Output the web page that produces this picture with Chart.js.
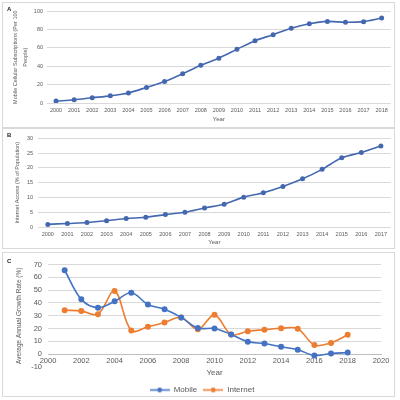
<!DOCTYPE html>
<html>
<head>
<meta charset="utf-8">
<script src="https://cdn.jsdelivr.net/npm/chart.js@4.4.0/dist/chart.umd.min.js"></script>
<style>
  body { margin: 0; background: #fff; width: 400px; height: 400px; position: relative; overflow: hidden; }
  .panel { position: absolute; left: 2px; width: 393px; border: 1px solid #d9d9d9; box-sizing: border-box; overflow: hidden; }
  .panel canvas { position: absolute; left: 1px; top: 1px; }
  .tag { position: absolute; left: 4px; top: 3px; font: bold 6px "Liberation Sans", sans-serif; color: #222; z-index: 2; }
</style>
</head>
<body>
<div class="panel" id="pa" style="top:2px;height:126px;"><span class="tag">A</span><canvas id="chartA" width="390" height="124"></canvas></div>
<div class="panel" id="pb" style="top:128px;height:121px;"><span class="tag">B</span><canvas id="chartB" width="390" height="119"></canvas></div>
<div class="panel" id="pc" style="top:252px;height:145px;"><span class="tag" style="top:5px;">C</span><canvas id="chartC" width="390" height="150"></canvas></div>
<script>
// panel A - mobile subscriptions
var yearsA = ['2000','2001','2002','2003','2004','2005','2006','2007','2008','2009','2010','2011','2012','2013','2014','2015','2016','2017','2018'];
var mobileSubs = [2.1, 3.5, 5.7, 7.8, 11, 17, 23.4, 31.9, 41.1, 48.9, 58.5, 68, 74.5, 81.6, 86.5, 89, 88, 88.7, 92.6];

// panel B - internet access
var yearsB = ['2000','2001','2002','2003','2004','2005','2006','2007','2008','2009','2010','2011','2012','2013','2014','2015','2016','2017'];
var internetAccess = [0.88, 1.2, 1.5, 2.1, 2.85, 3.3, 4.2, 5.0, 6.45, 7.7, 10.1, 11.6, 13.7, 16.3, 19.5, 23.4, 25.2, 27.4];

// panel C - growth rates
var yearsC = [2001, 2002, 2003, 2004, 2005, 2006, 2007, 2008, 2009, 2010, 2011, 2012, 2013, 2014, 2015, 2016, 2017, 2018];
var mobileGrowth = [65.5, 42.8, 36.3, 41.3, 47.9, 38.8, 35, 28.7, 20.4, 20.1, 15.4, 9.8, 8.3, 5.8, 3.5, -1, 0.5, 1.3];
var internetGrowth = [34.3, 33.8, 31.2, 49.4, 18.4, 21.4, 24.7, 28.7, 19.4, 30.7, 15.4, 17.9, 19.1, 20.2, 19.9, 7.1, 8.8, 15.1];

var FONT = '"Liberation Sans", Arial, sans-serif';
var TXT = '#595959';
var GRID = '#d9d9d9';
var LINE_AB = '#4468b0';
var BLUE = '#4472c4';
var ORANGE = '#ed7d31';

Chart.defaults.font.family = FONT;
Chart.defaults.color = TXT;
Chart.defaults.animation = false;

function toPts(xs, ys) {
    var out = [];
    for (var i in xs) {
        out.push({x: xs[i], y: ys[i]});
    }
    return out;
}

function simpleLine(id, labels, values, opt) {
    return new Chart(document.getElementById(id), {
        type: 'line',
        data: {
            labels: labels,
            datasets: [{
                data: values,
                borderColor: LINE_AB,
                backgroundColor: LINE_AB,
                borderWidth: 1.6,
                pointRadius: 1.7,
                pointHoverRadius: 1.7,
                tension: 0.3
            }]
        },
        options: {
            responsive: false,
            layout: { padding: { left: 0, right: opt.padRight, top: opt.padTop, bottom: 0 } },
            plugins: { legend: { display: false }, tooltip: { enabled: false } },
            scales: {
                x: {
                    offset: true,
                    grid: { display: false, drawTicks: false },
                    border: { display: false },
                    ticks: { font: { size: 5.5 }, padding: 4, maxRotation: 0, autoSkip: false },
                    title: { display: true, text: 'Year', font: { size: 6 }, padding: { top: 0, bottom: opt.yearPad } },
                    afterFit: function(s) { s.height = opt.xH; }
                },
                y: {
                    min: 0, max: opt.max,
                    grid: { color: GRID, drawTicks: false, lineWidth: 1 },
                    border: { display: false },
                    ticks: { stepSize: opt.step, font: { size: 5.5 }, padding: opt.tickPad },
                    title: { display: true, text: opt.title, font: { size: 5.5, lineHeight: opt.titleLH }, padding: { top: opt.titlePad, bottom: 0 } },
                    afterFit: function(s) { s.width = opt.yW; }
                }
            }
        }
    });
}

simpleLine('chartA', yearsA, mobileSubs, {
    max: 100, step: 10, padRight: 2, padTop: 5, xH: 25, yW: 43, yearPad: 5, tickPad: 4,
    title: ['Mobile Cellular Subscriptions (Per 100', 'People)'], titleLH: 1.7, titlePad: 7.3
});

simpleLine('chartB', yearsB, internetAccess, {
    max: 30, step: 5, padRight: 3, padTop: 6, xH: 22, yW: 34, yearPad: 3, tickPad: 5,
    title: 'Internet Access (% of Population)', titleLH: 1.2, titlePad: 9.7
});

// legend marker: line with a dot, like excel
function legendMark(color) {
    var c = document.createElement('canvas');
    c.width = 20; c.height = 7;
    var g = c.getContext('2d');
    g.strokeStyle = color;
    g.lineWidth = 1.6;
    g.beginPath(); g.moveTo(0, 3.5); g.lineTo(20, 3.5); g.stroke();
    g.fillStyle = color;
    g.beginPath(); g.arc(10, 3.5, 2.4, 0, Math.PI * 2); g.fill();
    return c;
}

new Chart(document.getElementById('chartC'), {
    type: 'line',
    data: {
        datasets: [
            {
                label: 'Mobile',
                data: toPts(yearsC, mobileGrowth),
                borderColor: BLUE,
                backgroundColor: BLUE,
                borderWidth: 1.6,
                pointRadius: 2.2,
                pointHoverRadius: 2.2,
                tension: 0.35
            },
            {
                label: 'Internet',
                data: toPts(yearsC, internetGrowth),
                borderColor: ORANGE,
                backgroundColor: ORANGE,
                borderWidth: 1.6,
                pointRadius: 2.2,
                pointHoverRadius: 2.2,
                tension: 0.35
            }
        ]
    },
    options: {
        responsive: false,
        layout: { padding: { left: 19, right: 13, top: 6, bottom: 0 } },
        plugins: {
            tooltip: { enabled: false },
            legend: {
                position: 'bottom',
                title: { display: true, text: ' ', font: { size: 10, lineHeight: 1 }, padding: { top: 1.5, bottom: 1.5 } },
                labels: {
                    font: { size: 8 },
                    padding: 6,
                    usePointStyle: true,
                    pointStyleWidth: 20,
                    generateLabels: function(chart) {
                        return chart.data.datasets.map(function(ds, i) {
                            return {
                                text: ds.label,
                                pointStyle: legendMark(ds.borderColor),
                                fillStyle: ds.borderColor,
                                strokeStyle: ds.borderColor,
                                lineWidth: 0,
                                fontColor: TXT,
                                datasetIndex: i
                            };
                        });
                    }
                }
            }
        },
        scales: {
            x: {
                type: 'linear',
                min: 2000, max: 2020,
                position: { y: 0 },
                grid: { display: false, drawTicks: false },
                border: { display: true, color: '#bfbfbf' },
                ticks: { stepSize: 2, font: { size: 7.5 }, padding: 2.5, callback: function(v) { return String(v); } },
                title: { display: true, text: 'Year', font: { size: 8 }, padding: { top: 0, bottom: 3 } }
            },
            y: {
                min: -10, max: 70,
                grid: {
                    drawTicks: false,
                    color: function(ctx) { return ctx.tick && ctx.tick.value === -10 ? 'rgba(0,0,0,0)' : GRID; }
                },
                border: { display: false },
                ticks: { stepSize: 10, font: { size: 7.5 }, padding: 6 },
                title: { display: true, text: 'Average Annual Growth Rate (%)', font: { size: 6.5 }, padding: { top: -7.9, bottom: 0 } },
                afterFit: function(s) { s.width = 25; }
            }
        }
    }
});
</script>
</body>
</html>
